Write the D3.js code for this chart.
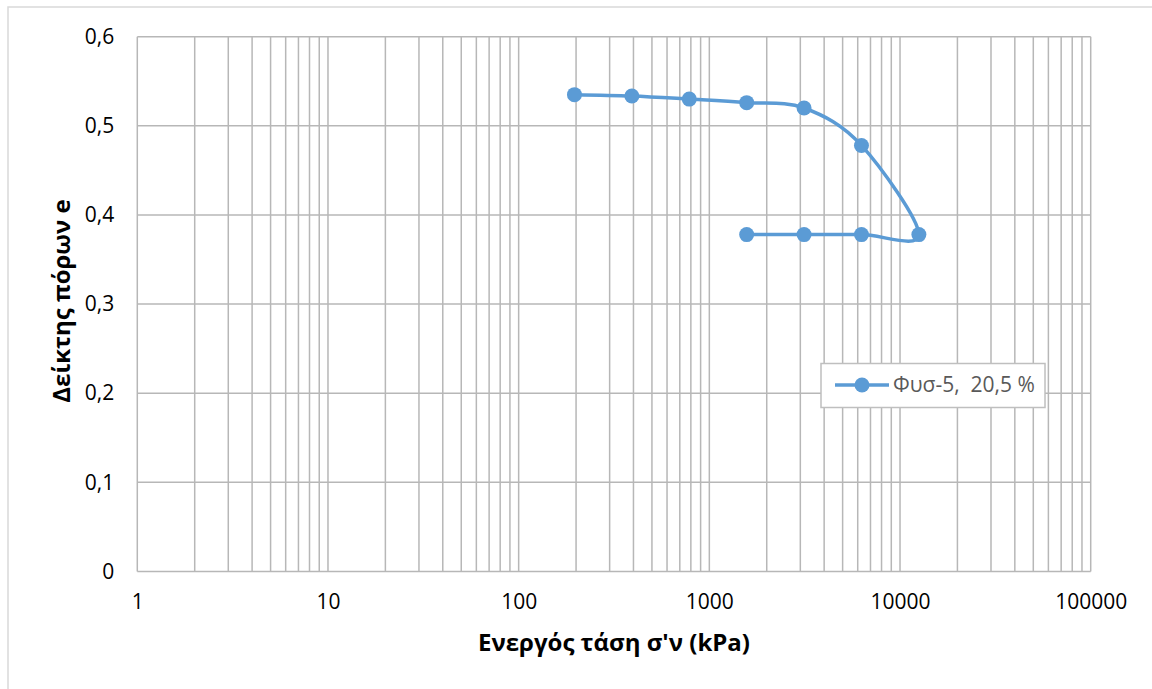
<!DOCTYPE html>
<html>
<head>
<meta charset="utf-8">
<script src="https://cdn.jsdelivr.net/npm/d3@7"></script>
<style>
  html, body { margin: 0; padding: 0; background: #fff; }
  svg { display: block; font-family: "Open Sans", sans-serif; }
</style>
</head>
<body>
<svg id="chart" width="1152" height="689"></svg>
<script>
// Oedometer test: effective stress (kPa) vs void ratio e
const loadStress   = [196.2, 392.4, 784.8, 1569.6, 3139.2, 6278.4, 12556.8];
const loadVoid     = [0.535, 0.5335, 0.530, 0.526, 0.520, 0.478, 0.378];
const unloadStress = [6278.4, 3139.2, 1569.6];
const unloadVoid   = [0.378, 0.378, 0.378];

const seriesName = "Φυσ-5,  20,5 %";
const xTitle = "Ενεργός τάση σ'ν (kPa)";
const yTitle = "Δείκτης πόρων e";
const xTickValues = [1, 10, 100, 1000, 10000, 100000];
const yTickValues = [0, 0.1, 0.2, 0.3, 0.4, 0.5, 0.6];

const points = loadStress.map((s, i) => ({ s, e: loadVoid[i] }))
  .concat(unloadStress.map((s, i) => ({ s, e: unloadVoid[i] })));

const svg = d3.select("#chart");
const W = 1152, H = 689;
const plot = { left: 137.3, right: 1090.7, top: 36.7, bottom: 571.5 };

// outer chart border
svg.append("rect")
  .attr("x", 8).attr("y", 7)
  .attr("width", W + 10).attr("height", H + 10)
  .attr("fill", "#fff").attr("stroke", "#d9d9d9").attr("stroke-width", 1.5);

const x = d3.scaleLog().domain([1, 100000]).range([plot.left, plot.right]);
const y = d3.scaleLinear().domain([0, 0.6]).range([plot.bottom, plot.top]);

// minor + major vertical gridlines
const gridX = [];
for (let dec = 1; dec < 100000; dec *= 10) {
  for (let k = 1; k <= 9; k++) gridX.push(dec * k);
}
gridX.push(100000);

const grid = svg.append("g").attr("stroke", "#b7b7b7").attr("stroke-width", 1.5);
grid.selectAll("line.v").data(gridX).join("line")
  .attr("class", "v")
  .attr("x1", d => x(d)).attr("x2", d => x(d))
  .attr("y1", plot.top).attr("y2", plot.bottom);
grid.selectAll("line.h").data(yTickValues).join("line")
  .attr("class", "h")
  .attr("x1", plot.left).attr("x2", plot.right)
  .attr("y1", d => y(d)).attr("y2", d => y(d));

// axes (labels only, lines come from the grid)
const fmtY = d => d === 0 ? "0" : d3.format(".1f")(d).replace(".", ",");
const yAxis = svg.append("g")
  .attr("transform", `translate(${plot.left},0)`)
  .call(d3.axisLeft(y).tickValues(yTickValues).tickFormat(fmtY).tickSize(0).tickPadding(23));
const xAxis = svg.append("g")
  .attr("transform", `translate(0,${plot.bottom})`)
  .call(d3.axisBottom(x).tickValues(xTickValues).tickFormat(d3.format("d")).tickSize(0).tickPadding(23));
[yAxis, xAxis].forEach(a => {
  a.select(".domain").remove();
  a.selectAll("text").attr("font-size", 21).attr("fill", "#000")
    .attr("font-family", "'Open Sans', sans-serif");
});

// axis titles
svg.append("text")
  .attr("x", 614).attr("y", 651)
  .attr("text-anchor", "middle")
  .attr("font-size", 24).attr("font-weight", "bold")
  .text(xTitle);
svg.append("text")
  .attr("transform", `translate(70,301) rotate(-90)`)
  .attr("text-anchor", "middle")
  .attr("font-size", 24).attr("font-weight", "bold")
  .text(yTitle);

// smoothed series line
const color = "#5b9bd5";
const line = d3.line()
  .x(d => x(d.s)).y(d => y(d.e))
  .curve(d3.curveCatmullRom.alpha(0));
svg.append("path")
  .datum(points)
  .attr("d", line)
  .attr("fill", "none").attr("stroke", color).attr("stroke-width", 3.5)
  .attr("stroke-linejoin", "round").attr("stroke-linecap", "round");

svg.append("g").selectAll("circle").data(points).join("circle")
  .attr("cx", d => x(d.s)).attr("cy", d => y(d.e))
  .attr("r", 7.5).attr("fill", color);

// legend
const lg = svg.append("g");
lg.append("rect")
  .attr("x", 821).attr("y", 363.5).attr("width", 224).attr("height", 44)
  .attr("fill", "#fff").attr("stroke", "#bfbfbf").attr("stroke-width", 1.5);
lg.append("line")
  .attr("x1", 835).attr("x2", 889).attr("y1", 385).attr("y2", 385)
  .attr("stroke", color).attr("stroke-width", 3.5);
lg.append("circle").attr("cx", 862).attr("cy", 385).attr("r", 7.5).attr("fill", color);
lg.append("text")
  .attr("x", 893).attr("y", 385).attr("dy", "0.35em")
  .attr("font-size", 21).attr("fill", "#595959")
  .attr("xml:space", "preserve")
  .style("white-space", "pre")
  .text(seriesName);
</script>
</body>
</html>
